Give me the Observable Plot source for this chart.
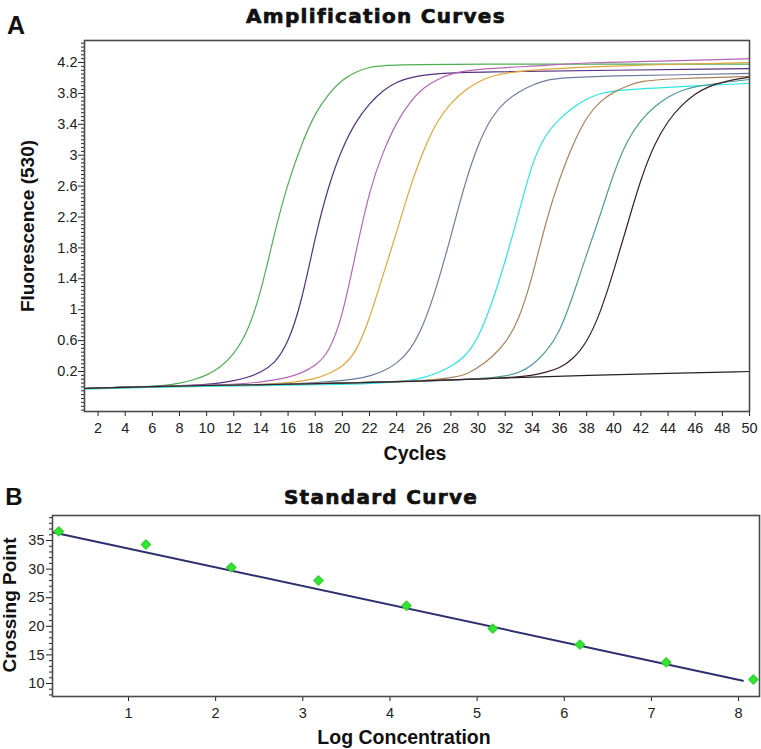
<!DOCTYPE html>
<html>
<head>
<meta charset="utf-8">
<script src="https://cdn.jsdelivr.net/npm/d3@7"></script>
<script src="https://cdn.jsdelivr.net/npm/@observablehq/plot@0.6"></script>
<style>
  html, body { margin: 0; padding: 0; background: #fff; }
  #root { position: relative; width: 761px; height: 749px; overflow: hidden; font-family: "Liberation Sans", Arial, sans-serif; color: #111; }
  .lbl { position: absolute; transform: translate(-50%, -50%); white-space: nowrap; font-weight: bold; line-height: 1; }
  .ttl { font-family: "DejaVu Sans", sans-serif; font-weight: bold; font-size: 20px; letter-spacing: 1.3px; -webkit-text-stroke: 0.7px #111; }
  .panel { position: absolute; left: 0; }
</style>
</head>
<body>
<div id="root">
  <div class="lbl" style="left:16px; top:25px; font-size:25px;">A</div>
  <div class="lbl ttl" style="left:376px; top:16px;">Amplification Curves</div>
  <div class="lbl" style="left:27px; top:226px; font-size:19px; transform: translate(-50%,-50%) rotate(-90deg);">Fluorescence (530)</div>
  <div class="lbl" style="left:415px; top:454px; font-size:19.5px;">Cycles</div>

  <div class="lbl" style="left:14px; top:497px; font-size:24px;">B</div>
  <div class="lbl ttl" style="left:381px; top:497px;">Standard Curve</div>
  <div class="lbl" style="left:9px; top:605px; font-size:19px; transform: translate(-50%,-50%) rotate(-90deg);">Crossing Point</div>
  <div class="lbl" style="left:404px; top:738px; font-size:19.5px;">Log Concentration</div>

  <div id="panelA" class="panel" style="top:0px;"></div>
  <div id="panelB" class="panel" style="top:470px;"></div>
</div>
<script>
// ---------- Panel A data: fluorescence readings [cycle, value] ----------
const cycleTicks = [2,4,6,8,10,12,14,16,18,20,22,24,26,28,30,32,34,36,38,40,42,44,46,48,50];
const fluorTicks = [0.2,0.6,1,1.4,1.8,2.2,2.6,3,3.4,3.8,4.2];

const curveGreen = [[1,-0.02],[3,-0.01],[5,0.0],[7,0.02],[8,0.045],[9,0.09],[10,0.15],[11,0.25],[12,0.42],[13,0.7],[14,1.22],[15,2.0],[16,2.65],[17,3.15],[18,3.55],[19,3.8],[20,3.98],[21,4.08],[22,4.14],[23,4.17],[30,4.18],[40,4.18],[50,4.18]];
const curveViolet = [[1,-0.02],[4,-0.01],[7,0.01],[10,0.03],[11,0.05],[12,0.08],[13,0.12],[14,0.19],[15,0.3],[16,0.56],[17,1.1],[18,1.95],[19,2.62],[20,3.1],[21,3.44],[22,3.67],[23,3.84],[24,3.95],[25,4.01],[27,4.06],[30,4.08],[40,4.1],[50,4.12]];
const curvePink = [[1,-0.02],[5,0.0],[9,0.02],[12,0.03],[14,0.06],[16,0.12],[17,0.18],[18,0.27],[19,0.44],[20,0.9],[21,1.75],[22,2.55],[23,3.05],[24,3.43],[25,3.7],[26,3.88],[27,3.98],[28,4.06],[30,4.12],[35,4.16],[38,4.2],[44,4.22],[50,4.25]];
const curveGold = [[1,-0.02],[5,-0.005],[10,0.02],[14,0.03],[16,0.05],[18,0.1],[19,0.17],[20,0.26],[21,0.44],[22,0.88],[23,1.45],[24,2.0],[25,2.6],[26,3.08],[27,3.45],[28,3.68],[29,3.84],[30,3.95],[31,4.03],[33,4.1],[40,4.16],[50,4.2]];
const curveSlate = [[1,-0.02],[5,0.0],[10,0.02],[15,0.035],[18,0.05],[21,0.1],[22,0.14],[23,0.2],[24,0.3],[25,0.47],[26,0.8],[27,1.32],[28,1.95],[29,2.62],[30,3.15],[31,3.5],[32,3.7],[33,3.82],[34,3.91],[35,3.97],[36,4.0],[40,4.03],[45,4.04],[50,4.06]];
const curveCyan = [[1,-0.03],[5,-0.01],[10,0.01],[15,0.02],[20,0.03],[23,0.05],[25,0.08],[26,0.12],[27,0.18],[28,0.26],[29,0.38],[30,0.62],[31,1.07],[32,1.62],[33,2.25],[34,2.92],[35,3.28],[36,3.47],[37,3.62],[38,3.73],[39,3.8],[40,3.84],[44,3.88],[50,3.93]];
const curveTan = [[1,-0.02],[5,0.0],[10,0.02],[15,0.03],[20,0.05],[24,0.07],[26,0.08],[28,0.12],[29,0.15],[30,0.25],[31,0.38],[32,0.56],[33,0.86],[34,1.42],[35,2.15],[36,2.7],[37,3.15],[38,3.5],[39,3.7],[40,3.82],[41,3.9],[42,3.96],[44,3.99],[50,4.02]];
const curveTeal = [[1,-0.02],[5,0.0],[10,0.02],[15,0.03],[20,0.05],[25,0.07],[30,0.1],[32,0.14],[33,0.18],[34,0.28],[35,0.45],[36,0.7],[37,1.18],[38,1.72],[39,2.22],[40,2.78],[41,3.2],[42,3.46],[43,3.63],[44,3.76],[45,3.84],[46,3.89],[48,3.94],[50,3.98]];
const curveDark = [[1,-0.02],[5,0.0],[10,0.02],[15,0.03],[20,0.05],[25,0.07],[30,0.1],[33,0.13],[34,0.15],[35,0.19],[36,0.24],[37,0.36],[38,0.57],[39,0.95],[40,1.5],[41,2.1],[42,2.7],[43,3.15],[44,3.45],[45,3.65],[46,3.8],[47,3.89],[48,3.95],[50,4.01]];
const curveNegative = [[1,-0.02],[5,0.0],[10,0.02],[15,0.03],[20,0.05],[25,0.075],[30,0.1],[33,0.125],[38,0.15],[44,0.175],[50,0.2]];

// ---------- Panel B data ----------
const logConc = [0.2, 1.2, 2.18, 3.18, 4.19, 5.18, 6.18, 7.17, 8.17];
const crossingPoint = [36.6, 34.3, 30.3, 28.0, 23.6, 19.6, 16.8, 13.7, 10.7];
const fitLogConc = [0.14, 8.05];
const fitCrossing = [36.4, 10.5];
const logTicks = [1,2,3,4,5,6,7,8];
const cpTicks = [10,15,20,25,30,35];

// styles (kept apart from data)
const seriesA = [
  {pts: curveNegative, color: "#222222"},
  {pts: curveGreen, color: "#4fae55"},
  {pts: curveViolet, color: "#55307f"},
  {pts: curvePink, color: "#b566b5"},
  {pts: curveGold, color: "#e2a63a"},
  {pts: curveSlate, color: "#6e7c9c"},
  {pts: curveCyan, color: "#2ee4e4"},
  {pts: curveTan, color: "#a8825a"},
  {pts: curveTeal, color: "#4d9a9a"},
  {pts: curveDark, color: "#3b1f24"}
];

const baseStyle = {fontFamily: "'Liberation Sans', Arial, sans-serif", fontSize: "14.5px", color: "#222", background: "transparent", overflow: "visible"};

const minorA = d3.range(-0.3, 4.46, 0.05).map(v => +v.toFixed(2)).filter(v => !fluorTicks.some(t => Math.abs(t - v) < 1e-6));
const fmt = d => String(+(+d).toFixed(1));
const none = () => "";

const plotA = Plot.plot({
  width: 761, height: 470,
  marginTop: 40, marginBottom: 59, marginLeft: 84, marginRight: 12,
  style: baseStyle,
  x: {domain: [1, 50]},
  y: {domain: [-0.318, 4.485]},
  marks: [
    Plot.axisY({ticks: minorA, tickSize: 3, tickFormat: none, label: null}),
    Plot.axisY({ticks: fluorTicks, tickSize: 6, tickPadding: 1, tickFormat: fmt, label: null}),
    Plot.axisX({ticks: cycleTicks, tickSize: 5, tickPadding: 6, tickFormat: fmt, label: null}),
    ...seriesA.map(s => Plot.line(s.pts, {x: d => d[0], y: d => d[1], stroke: s.color, strokeWidth: 1.2, curve: "basis"})),
    Plot.frame({stroke: "#4a4a4a", strokeWidth: 1.6})
  ]
});
document.getElementById("panelA").appendChild(plotA);

const minorB = d3.range(8, 40, 1).filter(v => !cpTicks.includes(v));
const pointsB = logConc.map((x, i) => ({x, y: crossingPoint[i]}));
const fitB = fitLogConc.map((x, i) => ({x, y: fitCrossing[i]}));

const plotB = Plot.plot({
  width: 761, height: 279,
  marginTop: 45, marginBottom: 53, marginLeft: 52, marginRight: 2,
  style: baseStyle,
  x: {domain: [0.128, 8.24]},
  y: {domain: [7.73, 39.37]},
  marks: [
    Plot.axisY({ticks: minorB, tickSize: 3, tickFormat: none, label: null}),
    Plot.axisY({ticks: cpTicks, tickSize: 6, tickPadding: 2, label: null}),
    Plot.axisX({ticks: logTicks, tickSize: 5, tickPadding: 6, label: null}),
    Plot.line(fitB, {x: "x", y: "y", stroke: "#2e2e6e", strokeWidth: 2}),
    Plot.dot(pointsB, {x: "x", y: "y", symbol: "diamond2", r: 4, fill: "#33e633", stroke: "#2fd62f", strokeWidth: 1.5, strokeLinejoin: "round"}),
    Plot.frame({stroke: "#4a4a4a", strokeWidth: 1.6})
  ]
});
document.getElementById("panelB").appendChild(plotB);
</script>
</body>
</html>
